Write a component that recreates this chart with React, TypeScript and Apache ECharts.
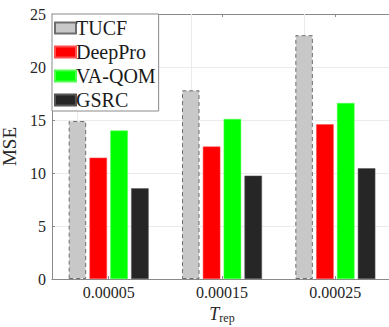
import React, { useEffect, useRef } from "react";
import * as echarts from "echarts";

const categories = ["0.00005", "0.00015", "0.00025"];
const seriesNames = ["TUCF", "DeepPro", "VA-QOM", "GSRC"];
const tucf = [14.9, 17.8, 23.0];
const deepPro = [11.45, 12.5, 14.6];
const vaQom = [14.0, 15.1, 16.6];
const gsrc = [8.55, 9.75, 10.45];
const yTicks = { min: 0, max: 25, interval: 5 };

const FONT = "Liberation Serif";

export default function App() {
  const ref = useRef<HTMLDivElement>(null);
  useEffect(() => {
    const chart = echarts.init(ref.current!, null, { renderer: "svg" });
    const axisColor = "#8a8a8a";
    const gridColor = "#ebebeb";
    const barBase = { type: "bar", barWidth: 17.5, barGap: "19%", xAxisIndex: 0, z: 3 } as any;
    const tickRich = { a: { fontFamily: FONT, fontSize: 16, color: "#262626" } };
    chart.setOption({
      animation: false,
      backgroundColor: "#ffffff",
      textStyle: { fontFamily: FONT },
      grid: { left: 52, top: 14, right: -3, bottom: 48, containLabel: false, outerBoundsMode: "none" } as any,
      legend: {
        orient: "vertical",
        left: 52,
        top: 14,
        z: 10,
        data: seriesNames,
        backgroundColor: "#ffffff",
        borderColor: "#8a8a8a",
        borderWidth: 1,
        borderRadius: 0,
        padding: [4, 3, 1, 2],
        itemWidth: 21,
        itemHeight: 11,
        itemGap: 4,
        icon: "rect",
        formatter: "{a|{name}}",
        textStyle: {
          fontFamily: FONT,
          fontSize: 20,
          color: "#1a1a1a",
          padding: [0, 0, 0, -5],
          rich: { a: { fontFamily: FONT, fontSize: 20, color: "#1a1a1a" } },
        },
      },
      xAxis: [
        {
          type: "category",
          data: categories,
          position: "bottom",
          axisLine: { lineStyle: { color: axisColor, width: 1 } },
          axisTick: { show: true, inside: true, alignWithLabel: true, length: 3, lineStyle: { color: axisColor } },
          splitLine: { show: false },
          axisLabel: {
            fontFamily: FONT,
            fontSize: 16,
            color: "#262626",
            margin: 5,
            formatter: (v: string) => `{a|${v}}`,
            rich: tickRich,
          },
          name: "{t|T}{s|rep}",
          nameLocation: "middle",
          nameGap: 17,
          nameTextStyle: {
            fontFamily: FONT,
            rich: {
              t: { fontFamily: FONT, fontStyle: "italic", fontSize: 18, color: "#262626" },
              s: { fontFamily: FONT, fontSize: 12, color: "#262626", padding: [9, 0, 0, 0] },
            },
          },
        },
        {
          type: "category",
          data: categories,
          position: "top",
          axisLine: { lineStyle: { color: axisColor, width: 1 } },
          axisTick: { show: true, inside: true, alignWithLabel: true, length: 3, lineStyle: { color: axisColor } },
          axisLabel: { show: false },
          splitLine: { show: false },
        },
      ],
      yAxis: {
        type: "value",
        min: yTicks.min,
        max: yTicks.max,
        interval: yTicks.interval,
        axisLine: { show: true, lineStyle: { color: axisColor, width: 1 } },
        axisTick: { show: true, inside: true, length: 3, lineStyle: { color: axisColor } },
        splitLine: { show: true, lineStyle: { color: gridColor, width: 1 } },
        axisLabel: {
          fontFamily: FONT,
          fontSize: 16,
          color: "#262626",
          margin: 6,
          formatter: (v: number) => `{a|${v}}`,
          rich: tickRich,
        },
        name: "MSE",
        nameLocation: "middle",
        nameGap: 27,
        nameRotate: 90,
        nameTextStyle: { fontFamily: FONT, fontSize: 19, color: "#262626" },
      },
      series: [
        {
          ...barBase,
          name: "TUCF",
          data: tucf,
          itemStyle: { color: "#c8c8c8", borderColor: "#6e6e6e", borderWidth: 1, borderType: [4, 3] },
          markLine: {
            silent: true,
            symbol: "none",
            z: 1,
            label: { show: false },
            lineStyle: { color: gridColor, width: 1, type: "solid" },
            data: categories.map((c) => ({ xAxis: c })),
          },
        },
        {
          ...barBase,
          name: "DeepPro",
          data: deepPro,
          itemStyle: { color: "#ff0000", borderColor: "#ff5050", borderWidth: 0.5 },
        },
        {
          ...barBase,
          name: "VA-QOM",
          data: vaQom,
          itemStyle: { color: "#00ff00", borderColor: "#50ff50", borderWidth: 0.5 },
        },
        {
          ...barBase,
          name: "GSRC",
          data: gsrc,
          itemStyle: { color: "#262626", borderColor: "#555555", borderWidth: 0.5 },
        },
      ],
    });
    return () => chart.dispose();
  }, []);
  return (
    <div
      ref={ref}
      style={{ position: "fixed", left: 0, top: 0, width: 389, height: 327, background: "#fff" }}
    />
  );
}
